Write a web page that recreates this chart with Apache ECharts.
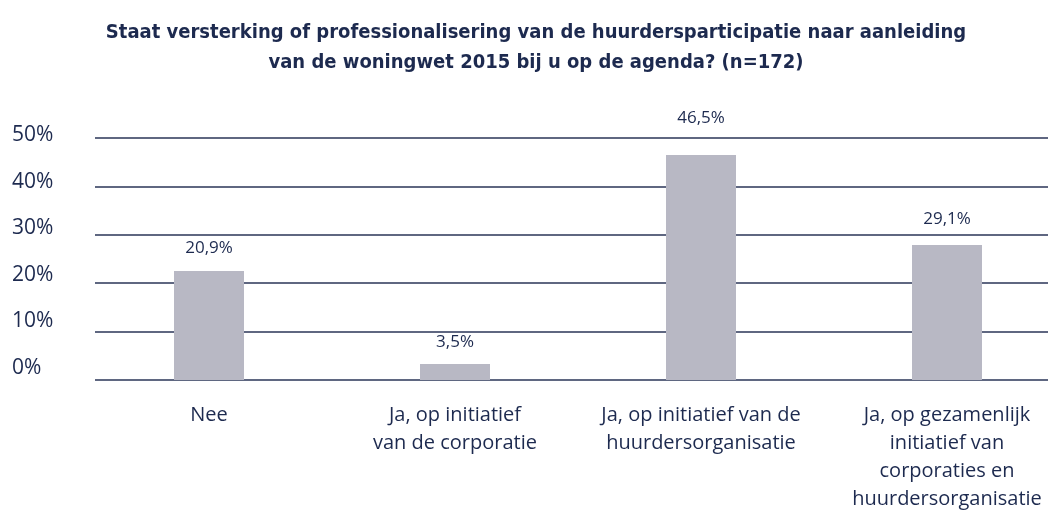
<!DOCTYPE html>
<html>
<head>
<meta charset="utf-8">
<script src="https://cdn.jsdelivr.net/npm/echarts@6/dist/echarts.min.js"></script>
<style>
    html, body { margin: 0; padding: 0; background: #fff; }
    #chart { width: 1048px; height: 525px; }
</style>
</head>
<body>
<div id="chart"></div>
<script>
    var categories = [
        'Nee',
        'Ja, op initiatief\nvan de corporatie',
        'Ja, op initiatief van de\nhuurdersorganisatie',
        'Ja, op gezamenlijk\ninitiatief van\ncorporaties en\nhuurdersorganisatie'
    ];
    // bar heights as drawn in the picture
    var values = [22.5, 3.3, 46.5, 27.9];
    // the printed labels above the bars
    var valueLabels = ['20,9%', '3,5%', '46,5%', '29,1%'];
    var yTicks = [0, 10, 20, 30, 40, 50];

    var navy = '#1d2a4f';
    var bodyFont = '"Open Sans", Lato, sans-serif';
    var labelGap = [14, 13, 28, 17];

    var myChart = echarts.init(document.getElementById('chart'));
    var option = {
        animation: false,
        title: {
            text: 'Staat versterking of professionalisering van de huurdersparticipatie naar aanleiding\nvan de woningwet 2015 bij u op de agenda? (n=172)',
            left: 531,
            top: 13,
            textAlign: 'center',
            textStyle: {
                color: navy,
                fontFamily: '"Liberation Sans Narrow", "DejaVu Sans Condensed", sans-serif',
                fontWeight: 'bold',
                fontSize: 20,
                lineHeight: 30
            }
        },
        grid: [
            // bars and category labels
            { left: 86, width: 984, top: 138, bottom: 145, outerBoundsMode: 'none' },
            // horizontal lines
            { left: 95, right: 0, top: 138, bottom: 145, outerBoundsMode: 'none' },
            // percentage labels on the left
            { left: 95, right: 0, top: 135, bottom: 157, outerBoundsMode: 'none' }
        ],
        xAxis: [
            {
                gridIndex: 0,
                type: 'category',
                data: categories,
                axisLine: { show: false },
                axisTick: { show: false },
                axisLabel: {
                    interval: 0,
                    margin: 21,
                    color: navy,
                    fontFamily: bodyFont,
                    fontSize: 20,
                    lineHeight: 28
                }
            },
            { gridIndex: 1, type: 'value', show: false },
            { gridIndex: 2, type: 'value', show: false }
        ],
        yAxis: [
            { gridIndex: 0, type: 'value', min: 0, max: 50, show: false },
            {
                gridIndex: 1,
                type: 'value',
                min: 0,
                max: 50,
                interval: 10,
                axisLine: { show: false },
                axisTick: { show: false },
                axisLabel: { show: false },
                splitLine: { lineStyle: { color: '#2a3557', width: 1.5 } }
            },
            {
                gridIndex: 2,
                type: 'value',
                min: yTicks[0],
                max: yTicks[yTicks.length - 1],
                interval: 10,
                axisLine: { show: false },
                axisTick: { show: false },
                splitLine: { show: false },
                axisLabel: {
                    align: 'left',
                    margin: 83,
                    color: navy,
                    fontFamily: bodyFont,
                    fontSize: 21,
                    formatter: '{value}%'
                }
            }
        ],
        series: [
            {
                type: 'bar',
                xAxisIndex: 0,
                yAxisIndex: 0,
                barWidth: 70,
                itemStyle: { color: '#b8b8c4' },
                data: values.map(function (v, i) {
                    return {
                        value: v,
                        label: {
                            show: true,
                            position: 'top',
                            distance: labelGap[i],
                            formatter: valueLabels[i],
                            color: navy,
                            fontFamily: bodyFont,
                            fontSize: 17
                        }
                    };
                })
            }
        ]
    };
    myChart.setOption(option);
</script>
</body>
</html>
